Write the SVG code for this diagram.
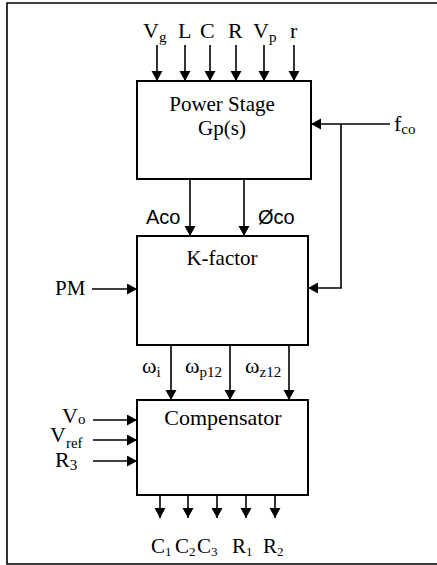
<svg xmlns="http://www.w3.org/2000/svg" width="437" height="565" viewBox="0 0 437 565">
<style>
.box{fill:#fff;stroke:#000;stroke-width:2}
.ln{fill:none;stroke:#000;stroke-width:1.6}
.t{font-family:"Liberation Serif","Times New Roman",serif;fill:#000}
.s{font-family:"Liberation Sans",Arial,sans-serif;fill:#000}
.sub{font-size:15px}
.sb{font-size:13px}
</style>
<defs>
<marker id="ah" markerUnits="userSpaceOnUse" markerWidth="12" markerHeight="12" refX="10" refY="5.5" orient="auto">
<path d="M0,0 L10,5.5 L0,11 z" fill="#000"/>
</marker>
</defs>
<rect width="437" height="565" fill="#fff"/>
<path class="ln" d="M437,3 H7 V564 H437" stroke-width="2"/>

<g id="connectors">
<line class="ln" x1="157" y1="45" x2="157" y2="81" marker-end="url(#ah)"/>
<line class="ln" x1="185" y1="45" x2="185" y2="81" marker-end="url(#ah)"/>
<line class="ln" x1="210" y1="45" x2="210" y2="81" marker-end="url(#ah)"/>
<line class="ln" x1="236" y1="45" x2="236" y2="81" marker-end="url(#ah)"/>
<line class="ln" x1="264" y1="45" x2="264" y2="81" marker-end="url(#ah)"/>
<line class="ln" x1="294" y1="45" x2="294" y2="81" marker-end="url(#ah)"/>
<line class="ln" x1="390" y1="124" x2="311" y2="124" marker-end="url(#ah)"/>
<polyline class="ln" points="341,124 341,288 308,288" marker-end="url(#ah)"/>
<line class="ln" x1="190" y1="179" x2="190" y2="236" marker-end="url(#ah)"/>
<line class="ln" x1="244" y1="179" x2="244" y2="236" marker-end="url(#ah)"/>
<line class="ln" x1="92" y1="289" x2="137" y2="289" marker-end="url(#ah)"/>
<line class="ln" x1="171" y1="345" x2="171" y2="400" marker-end="url(#ah)"/>
<line class="ln" x1="230" y1="345" x2="230" y2="400" marker-end="url(#ah)"/>
<line class="ln" x1="289" y1="345" x2="289" y2="400" marker-end="url(#ah)"/>
<line class="ln" x1="93" y1="420" x2="137" y2="420" marker-end="url(#ah)"/>
<line class="ln" x1="93" y1="440" x2="137" y2="440" marker-end="url(#ah)"/>
<line class="ln" x1="93" y1="461" x2="137" y2="461" marker-end="url(#ah)"/>
<line class="ln" x1="160" y1="495" x2="160" y2="518" marker-end="url(#ah)"/>
<line class="ln" x1="188" y1="495" x2="188" y2="518" marker-end="url(#ah)"/>
<line class="ln" x1="217" y1="495" x2="217" y2="518" marker-end="url(#ah)"/>
<line class="ln" x1="246" y1="495" x2="246" y2="518" marker-end="url(#ah)"/>
<line class="ln" x1="275" y1="495" x2="275" y2="518" marker-end="url(#ah)"/>
</g>

<g id="power-stage">
<rect class="box" x="137" y="81" width="174" height="98"/>
<text class="t" x="222" y="111" font-size="21" text-anchor="middle">Power Stage</text>
<text class="t" x="222" y="135" font-size="21" text-anchor="middle">Gp(s)</text>
</g>

<g id="k-factor">
<rect class="box" x="137" y="236" width="171" height="109"/>
<text class="t" x="222" y="265" font-size="21" text-anchor="middle">K-factor</text>
</g>

<g id="compensator">
<rect class="box" x="137" y="400" width="171" height="95"/>
<text class="t" x="223" y="425" font-size="22" text-anchor="middle">Compensator</text>
</g>

<g id="labels">
<text class="t" x="143" y="38" font-size="22">V<tspan class="sub" dy="4">g</tspan></text>
<text class="t" x="178" y="38" font-size="22">L</text>
<text class="t" x="200" y="38" font-size="22">C</text>
<text class="t" x="228" y="38" font-size="22">R</text>
<text class="t" x="253" y="38" font-size="22">V<tspan class="sub" dy="4">p</tspan></text>
<text class="t" x="290" y="38" font-size="22">r</text>
<text class="t" x="394" y="131" font-size="22">f<tspan class="sub" dy="3">co</tspan></text>
<text class="s" x="146" y="224" font-size="20">Aco</text>
<text class="s" x="258" y="224" font-size="20">Øco</text>
<text class="t" x="55" y="295" font-size="21">PM</text>
<text class="t" x="142" y="373" font-size="22">ω<tspan class="sub" dy="4">i</tspan></text>
<text class="t" x="185" y="373" font-size="22">ω<tspan class="sub" dy="4">p12</tspan></text>
<text class="t" x="245" y="373" font-size="22">ω<tspan class="sub" dy="4">z12</tspan></text>
<text class="t" x="62" y="423" font-size="22">V<tspan class="sub" dy="1">o</tspan></text>
<text class="t" x="50" y="442" font-size="22">V<tspan class="sub" dy="6">ref</tspan></text>
<text class="t" x="55" y="467" font-size="22">R<tspan class="sub" dy="3">3</tspan></text>
<text class="t" x="151" y="553" font-size="21">C<tspan class="sb" dy="3">1</tspan></text>
<text class="t" x="175" y="553" font-size="21">C<tspan class="sb" dy="3">2</tspan></text>
<text class="t" x="197" y="553" font-size="21">C<tspan class="sb" dy="3">3</tspan></text>
<text class="t" x="232" y="553" font-size="21">R<tspan class="sb" dy="3">1</tspan></text>
<text class="t" x="263" y="553" font-size="21">R<tspan class="sb" dy="3">2</tspan></text>
</g>
</svg>
